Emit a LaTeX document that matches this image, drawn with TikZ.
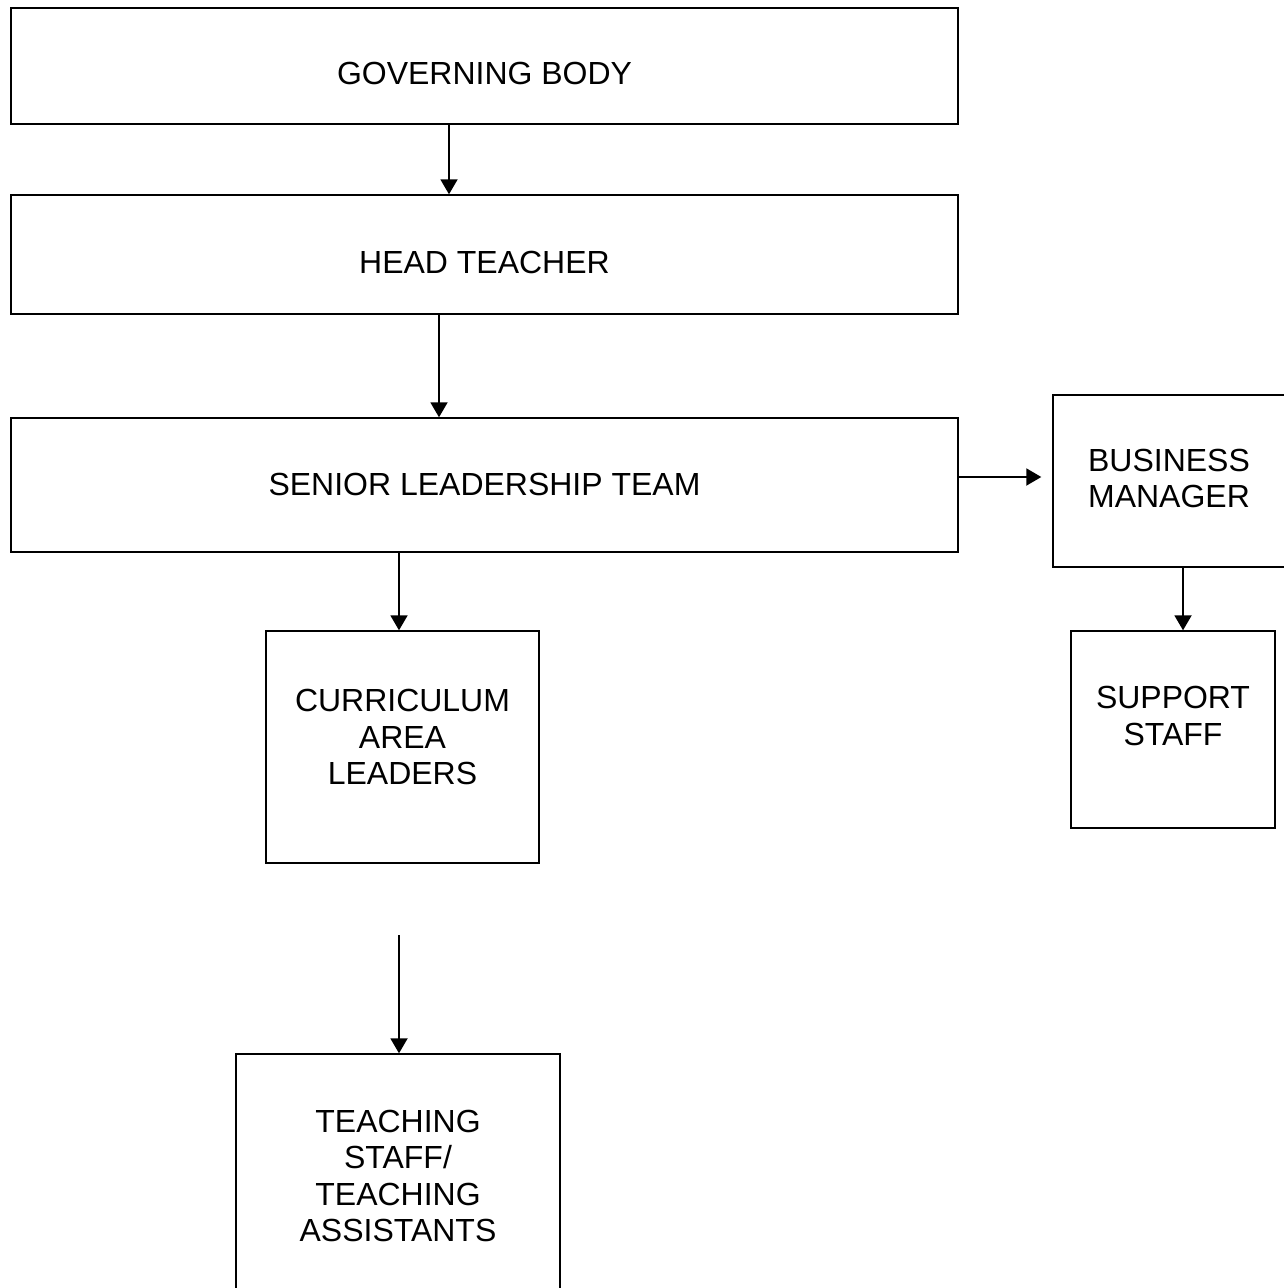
\documentclass[tikz,border=0pt]{standalone}
\usepackage{fontspec}
\setmainfont{Liberation Sans}
\usetikzlibrary{arrows.meta,positioning,calc}
\tikzset{
  unit/.style={draw=black, line width=0.8pt, fill=white, inner sep=0pt},
  caption/.style={font=\fontsize{18.2pt}{20.8pt}\selectfont, align=center, inner sep=0pt},
  flow/.style={-{Triangle[length=3mm, width=3.4mm]}, line width=1.1pt, black},
}

\begin{document}
\begin{tikzpicture}
  \useasboundingbox (0,0) rectangle (25.66,-25.76);
  % main chain
  \node[unit, minimum width=18.94cm, minimum height=2.32cm,
        label={[caption, yshift=-0.14cm]center:GOVERNING BODY}]      (gb)  at (9.69,-1.32)  {};
  \node[unit, minimum width=18.94cm, minimum height=2.38cm,
        label={[caption, yshift=-0.15cm]center:HEAD TEACHER}]        (ht)  at (9.69,-5.09)  {};
  \node[unit, minimum width=18.94cm, minimum height=2.68cm,
        label={[caption, yshift=0.02cm]center:SENIOR LEADERSHIP TEAM}] (slt) at (9.69,-9.70) {};
  % business side
  \node[unit, minimum width=4.64cm, minimum height=3.44cm,
        label={[caption, yshift=0.05cm]center:{BUSINESS\\MANAGER}}]  (bm)  at (23.38,-9.62) {};
  \node[unit, minimum width=4.08cm, minimum height=3.94cm,
        label={[caption, yshift=0.27cm]center:{SUPPORT\\STAFF}}]     (ss)  at (23.46,-14.59) {};
  % teaching side
  \node[unit, minimum width=5.46cm, minimum height=4.64cm,
        label={[caption, yshift=0.2cm]center:{CURRICULUM\\AREA\\LEADERS}}] (cal) at (8.05,-14.94) {};
  \node[unit, minimum width=6.48cm, minimum height=4.92cm,
        label={[caption, yshift=0.02cm]center:{TEACHING\\STAFF/\\TEACHING\\ASSISTANTS}}] (ts) at (7.96,-23.54) {};
  \coordinate (tsin) at (7.98,-18.70);
  % connectors
  \draw[flow] ([xshift=-0.71cm]gb.south) -- ([xshift=-0.71cm]ht.north);
  \draw[flow] ([xshift=-0.91cm]ht.south) -- ([xshift=-0.91cm]slt.north);
  \draw[flow] ([xshift=-0.07cm]cal.north |- slt.south) -- ([xshift=-0.07cm]cal.north);
  \draw[flow] ([yshift=0.16cm]slt.east) -- ([xshift=-0.22cm, yshift=0.08cm]bm.west);
  \draw[flow] ([xshift=0.2cm]ss.north |- bm.south) -- ([xshift=0.2cm]ss.north);
  \draw[flow] (tsin) -- (tsin |- ts.north);
\end{tikzpicture}
\end{document}
